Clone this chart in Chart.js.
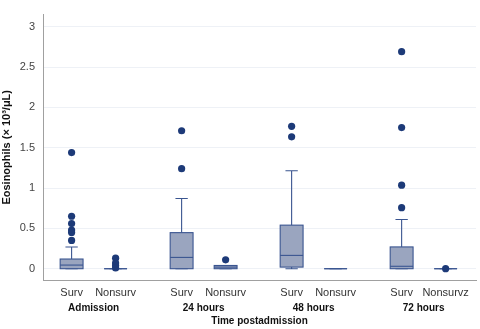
<!DOCTYPE html>
<html>
<head>
<meta charset="utf-8">
<script src="https://cdn.jsdelivr.net/npm/chart.js@4"></script>
<style>
  body { margin: 0; background: #fff; }
  #wrap { width: 480px; height: 329px; position: relative; }
</style>
</head>
<body>
<div id="wrap"><canvas id="chart"></canvas></div>
<script>
const groups = ['Admission', '24 hours', '48 hours', '72 hours'];
const boxLabels = ['Surv', 'Nonsurv', 'Surv', 'Nonsurv', 'Surv', 'Nonsurv', 'Surv', 'Nonsurvz'];
const q1 = [0, 0, 0, 0, 0.02, 0, 0, 0];
const median = [0.045, 0, 0.14, 0.02, 0.165, 0, 0.03, 0];
const q3 = [0.12, 0, 0.447, 0.04, 0.54, 0, 0.27, 0];
const whiskerLow = [0, 0, 0, 0, 0, 0, 0, 0];
const whiskerHigh = [0.27, 0, 0.87, 0.04, 1.215, 0, 0.61, 0];
const outliers = [
  [1.44, 0.65, 0.56, 0.48, 0.45, 0.35],
  [0.13, 0.07, 0.04, 0.01],
  [1.71, 1.24],
  [0.11],
  [1.765, 1.635],
  [],
  [2.69, 1.75, 1.035, 0.757],
  [0]
];
const yTicks = [0, 0.5, 1, 1.5, 2, 2.5, 3];

// each group holds two boxes, groups sit 2.5 units apart
const xPos = boxLabels.map((_, i) => Math.floor(i / 2) * 2.5 + (i % 2));
const groupPos = groups.map((_, g) => g * 2.5 + 0.5);

const boxFill = '#9aa5bf';
const boxLine = '#3a5590';
const dotColor = '#1d3a78';

const boxPlugin = {
  id: 'boxes',
  beforeDatasetsDraw(chart) {
    const { ctx } = chart;
    const xs = chart.scales.x, ys = chart.scales.y;
    const half = 0.26, cap = 0.14;
    ctx.save();
    ctx.strokeStyle = boxLine;
    ctx.lineWidth = 1.1;
    xPos.forEach((p, i) => {
      const l = xs.getPixelForValue(p - half), r = xs.getPixelForValue(p + half);
      const cl = xs.getPixelForValue(p - cap), cr = xs.getPixelForValue(p + cap);
      const cx = xs.getPixelForValue(p);
      const yq1 = ys.getPixelForValue(q1[i]), yq3 = ys.getPixelForValue(q3[i]);
      const ym = ys.getPixelForValue(median[i]);
      const yhi = ys.getPixelForValue(whiskerHigh[i]), ylo = ys.getPixelForValue(whiskerLow[i]);
      // whiskers
      ctx.beginPath();
      ctx.moveTo(cx, yq3); ctx.lineTo(cx, yhi);
      ctx.moveTo(cl, yhi); ctx.lineTo(cr, yhi);
      ctx.moveTo(cx, yq1); ctx.lineTo(cx, ylo);
      ctx.moveTo(cl, ylo); ctx.lineTo(cr, ylo);
      ctx.stroke();
      // box
      ctx.fillStyle = boxFill;
      ctx.fillRect(l, yq3, r - l, yq1 - yq3);
      ctx.strokeRect(l, yq3, r - l, yq1 - yq3);
      // median
      ctx.beginPath();
      ctx.moveTo(l, ym); ctx.lineTo(r, ym);
      ctx.stroke();
    });
    ctx.restore();
  }
};

const points = [];
outliers.forEach((vals, i) => vals.forEach(v => points.push({ x: xPos[i], y: v })));

new Chart(document.getElementById('chart'), {
  type: 'scatter',
  data: {
    datasets: [{
      data: points,
      backgroundColor: dotColor,
      borderWidth: 0,
      pointRadius: 3.6
    }]
  },
  plugins: [boxPlugin],
  options: {
    responsive: true,
    maintainAspectRatio: false,
    animation: false,
    layout: { padding: 0 },
    plugins: { legend: { display: false }, tooltip: { enabled: false } },
    scales: {
      x: {
        type: 'linear',
        min: -0.65,
        max: 9.19,
        grid: { display: false, drawTicks: false },
        border: { display: true, color: '#a0a0a0', width: 1 },
        afterBuildTicks: s => { s.ticks = xPos.map(v => ({ value: v })); },
        afterFit: s => { s.height = 21; },
        ticks: {
          autoSkip: false,
          maxRotation: 0,
          padding: 6,
          color: '#333',
          font: { family: 'Liberation Sans', size: 11 },
          callback: (v, i) => boxLabels[i]
        }
      },
      x2: {
        type: 'linear',
        position: 'bottom',
        min: -0.65,
        max: 9.19,
        grid: { display: false, drawTicks: false },
        border: { display: false },
        afterBuildTicks: s => { s.ticks = groupPos.map(v => ({ value: v })); },
        afterFit: s => { s.height = 28; },
        ticks: {
          autoSkip: false,
          maxRotation: 0,
          padding: 1,
          color: '#111',
          font: { family: 'Liberation Sans', size: 10, weight: 'bold' },
          callback: (v, i) => groups[i]
        },
        title: {
          display: true,
          text: 'Time postadmission',
          color: '#111',
          padding: { top: 0, bottom: 2 },
          font: { family: 'Liberation Sans', size: 10, weight: 'bold' }
        }
      },
      y: {
        min: -0.14,
        max: 3.15,
        afterBuildTicks: s => { s.ticks = yTicks.map(v => ({ value: v })); },
        afterFit: s => { s.width = 43; },
        grid: { color: '#eef1f6', drawTicks: false },
        border: { display: true, color: '#a0a0a0', width: 1 },
        ticks: {
          padding: 8,
          color: '#444',
          font: { family: 'Liberation Sans', size: 11 },
          callback: v => String(v)
        },
        title: {
          display: true,
          text: 'Eosinophils (× 10³/μL)',
          color: '#111',
          padding: { top: 0, bottom: 1 },
          font: { family: 'Liberation Sans', size: 11, weight: 'bold' }
        }
      }
    }
  }
});
</script>
</body>
</html>
